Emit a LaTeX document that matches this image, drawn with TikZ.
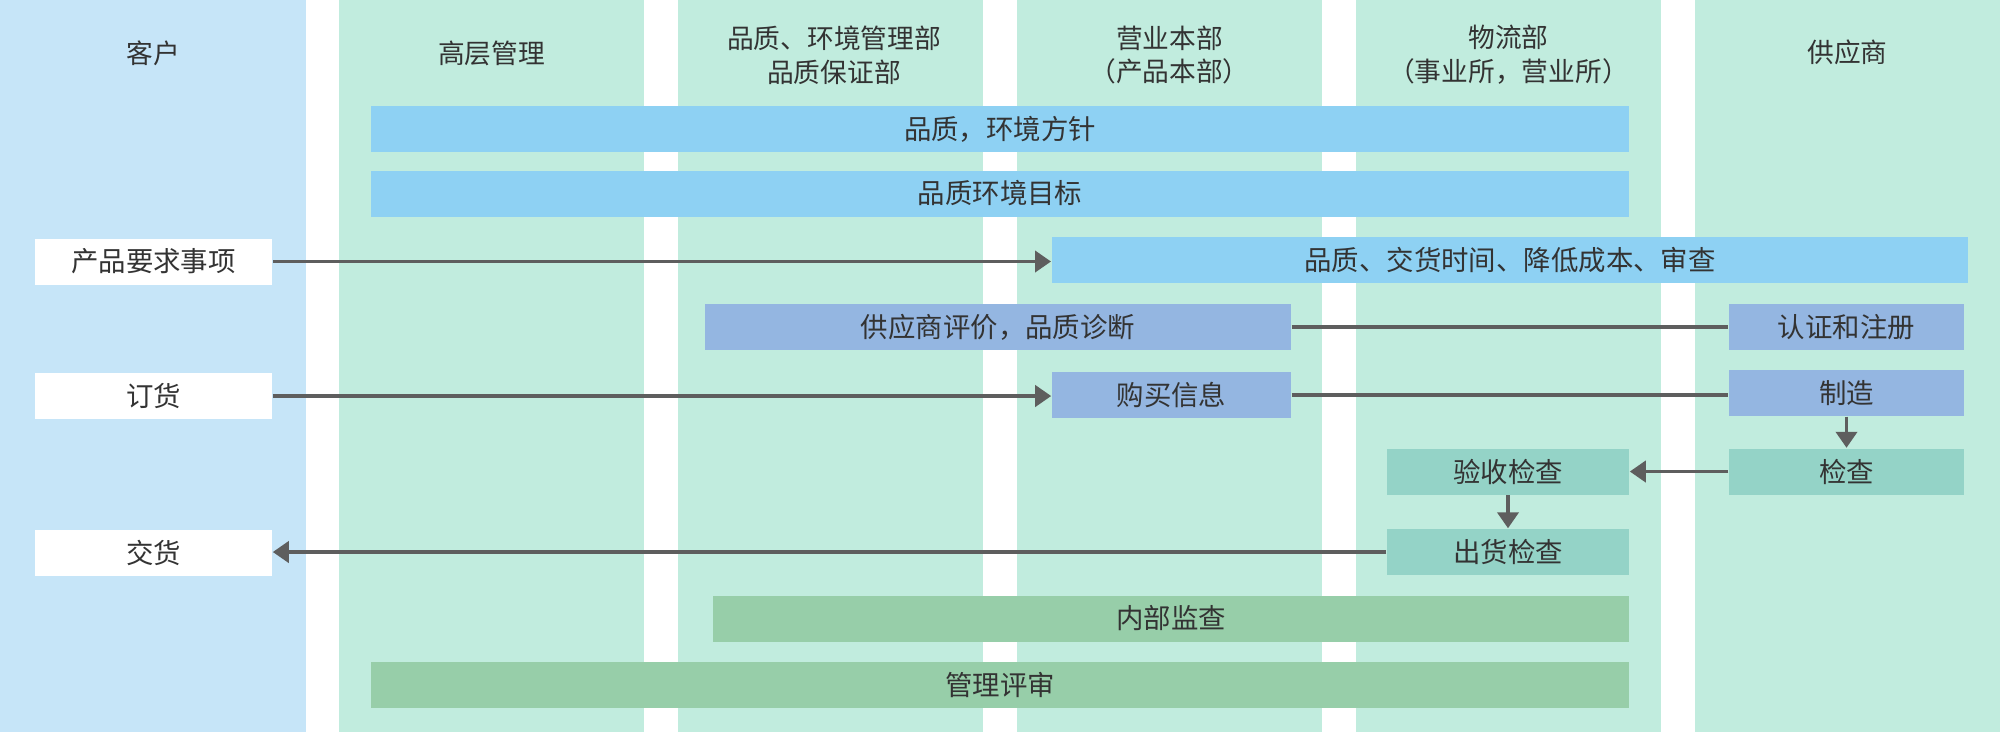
\documentclass[tikz,border=0pt]{standalone}
\usepackage{fontspec}
\setmainfont{Noto Sans CJK SC}
\usepackage{tikz}
\usetikzlibrary{shapes,arrows.meta,positioning}
\definecolor{custcol}{HTML}{C6E5F8}
\definecolor{lanecol}{HTML}{C1ECDE}
\definecolor{skybox}{HTML}{8ED1F3}
\definecolor{violetbox}{HTML}{94B6E1}
\definecolor{tealbox}{HTML}{94D3C7}
\definecolor{greenbox}{HTML}{97CEA9}
\definecolor{linecol}{HTML}{5E5E5E}
\definecolor{textcol}{HTML}{333333}
\tikzset{
  lanehead/.style={text=textcol, align=center, font=\fontsize{7.6pt}{9.6pt}\selectfont},
  flowbox/.style={inner sep=0pt, minimum height=0.46cm, text=textcol, font=\fontsize{7.8pt}{9pt}\selectfont},
  skyflow/.style={flowbox, fill=skybox},
  violetflow/.style={flowbox, fill=violetbox},
  tealflow/.style={flowbox, fill=tealbox},
  greenflow/.style={flowbox, fill=greenbox},
  custflow/.style={flowbox, fill=white, minimum width=2.37cm},
  link/.style={draw=linecol, line width=1.1pt},
  flowarrow/.style={link, -{Triangle[length=0.16cm,width=0.21cm]}, shorten >=0pt}
}

\begin{document}
\begin{tikzpicture}[x=0.01cm, y=-0.01cm]
\useasboundingbox (0,0) rectangle (2000,732);
\fill[white] (0,0) rectangle (2000,732);
\fill[custcol] (0,0) rectangle (306,732);
\foreach \lx in {339,678,1017,1356,1695}
  \fill[lanecol] (\lx,0) rectangle ++(305,732);

\node[lanehead] (hcust) at (153,53) {客户};
\node[lanehead] (htop) at (491.5,53) {高层管理};
\node[lanehead] (hqual) at (834,55) {品质、环境管理部\\品质保证部};
\node[lanehead] (hsales) at (1169.5,55) {营业本部\\（产品本部）};
\node[lanehead] (hlog) at (1508.5,55) {物流部\\（事业所，营业所）};
\node[lanehead] (hsupp) at (1847.5,52) {供应商};

\node[skyflow, minimum width=12.58cm] (policy) at (1000,129) {品质，环境方针};
\node[skyflow, minimum width=12.58cm] (target) at (1000,193.5) {品质环境目标};
\node[custflow] (req) at (153.5,261.5) {产品要求事项};
\node[skyflow, minimum width=9.16cm] (qcd) at (1510,260) {品质、交货时间、降低成本、审查};
\node[violetflow, minimum width=5.86cm] (eval) at (998,327) {供应商评价，品质诊断};
\node[violetflow, minimum width=2.35cm] (cert) at (1846.5,327) {认证和注册};
\node[custflow] (order) at (153.5,396) {订货};
\node[violetflow, minimum width=2.39cm] (buy) at (1171.5,395) {购买信息};
\node[violetflow, minimum width=2.35cm] (make) at (1846.5,393) {制造};
\node[tealflow, minimum width=2.35cm] (check) at (1846.5,471.5) {检查};
\node[tealflow, minimum width=2.42cm] (accept) at (1508,471.5) {验收检查};
\node[tealflow, minimum width=2.42cm] (ship) at (1508,552) {出货检查};
\node[custflow] (deliver) at (153.5,553) {交货};
\node[greenflow, minimum width=9.16cm] (audit) at (1171,618.5) {内部监查};
\node[greenflow, minimum width=12.58cm] (review) at (1000,685) {管理评审};

\draw[flowarrow] (req.east) -- (req.east -| qcd.west);
\draw[flowarrow] (order.east) -- (order.east -| buy.west);
\draw[link] (eval.east) -- (eval.east -| cert.west);
\draw[link] (buy.east) -- (buy.east -| make.west);
\draw[flowarrow] (make.south) -- (check.north);
\draw[flowarrow] (check.west) -- (accept.east);
\draw[flowarrow] (accept.south) -- (ship.north);
\draw[flowarrow] (ship.west) -- (ship.west -| deliver.east);

\end{tikzpicture}
\end{document}
